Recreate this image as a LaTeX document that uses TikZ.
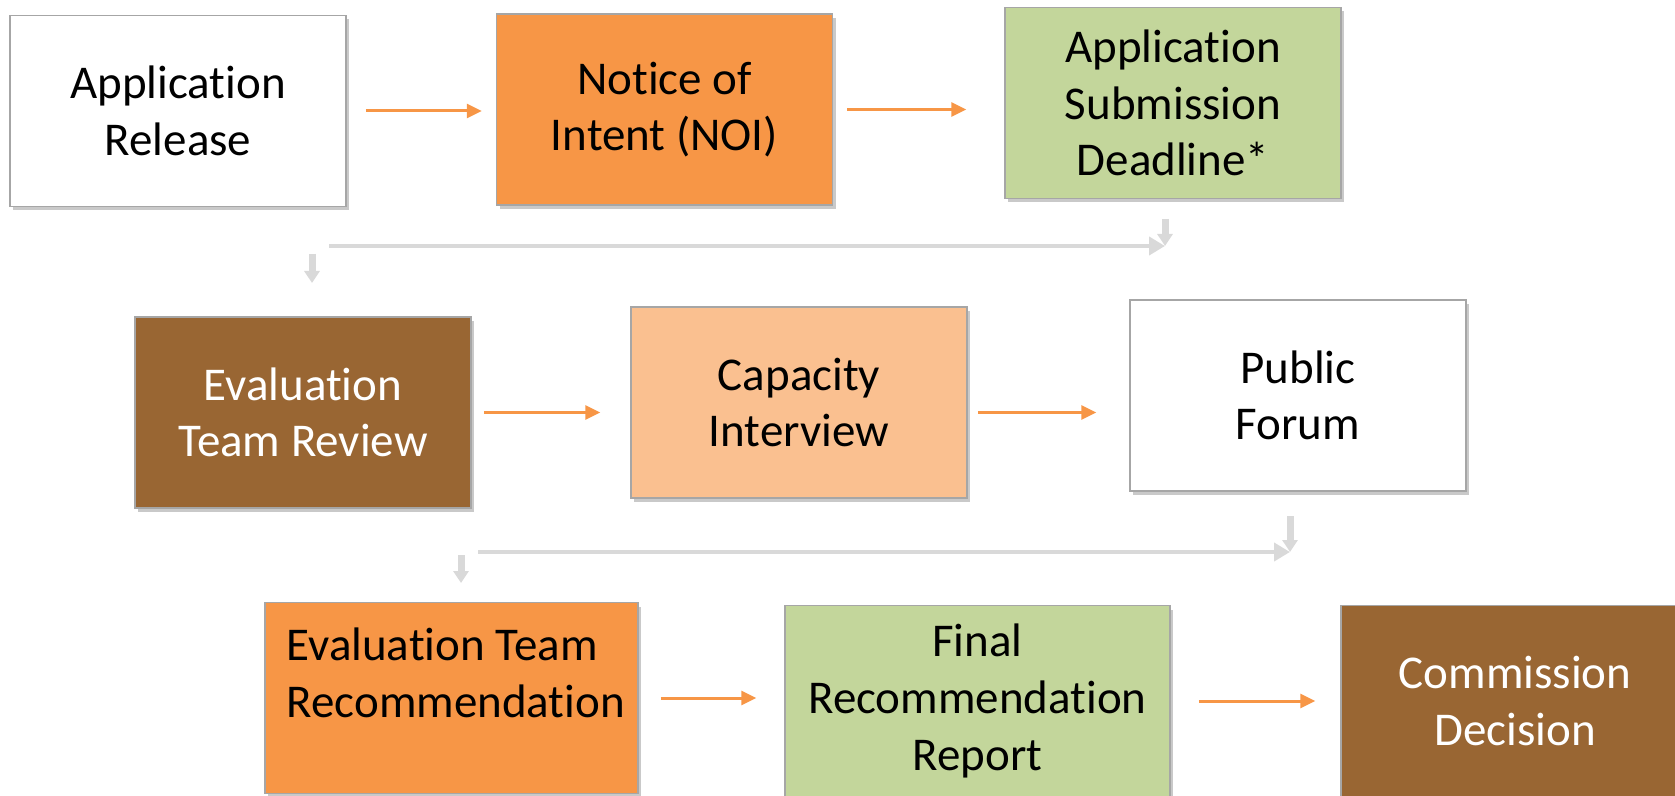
\documentclass[tikz,border=0pt]{standalone}
\usepackage{fontspec}
\setmainfont{Carlito}[Ligatures={NoCommon,NoContextual}]
\usetikzlibrary{arrows.meta,shadows}
\definecolor{boxorange}{HTML}{F79646}
\definecolor{boxpeach}{HTML}{FAC090}
\definecolor{boxgreen}{HTML}{C3D69B}
\definecolor{boxbrown}{HTML}{996633}
\definecolor{edgegray}{HTML}{A6A6A6}
\definecolor{linkgray}{HTML}{D9D9D9}
\tikzset{
  stagefont/.style={font=\fontsize{23.5}{28.3}\selectfont},
  stage/.style={stagefont, draw=edgegray, line width=0.75pt, minimum width=168pt, minimum height=95.5pt,
    inner sep=0pt, align=center, drop shadow={shadow xshift=1.5pt, shadow yshift=-2pt, opacity=0.3, fill=black!70}},
  flow/.style={draw=boxorange, line width=1.5pt, -{Triangle[length=7.5pt,width=7pt]}},
  link/.style={draw=linkgray, line width=2pt, -{Triangle[length=8pt,width=9pt]}},
  dropdown/.style={draw=linkgray, line width=3.5pt, -{Triangle[length=6pt,width=7.5pt]}},
}
\begin{document}
\begin{tikzpicture}[x=0.5pt, y=-0.5pt]
    \useasboundingbox (0,0) rectangle (1675,796);

    % first row
    \node[stage, fill=white] (release) at (178,111) {Application\\Release};
    \node[stage, fill=boxorange] (noi) at (664.5,109.5) {Notice of\\Intent (NOI)};
    \node[stage, fill=boxgreen] (deadline) at (1173,103) {Application\\Submission\\Deadline*};

    % second row
    \node[stage, fill=boxbrown, text=white] (review) at (303,412.5) {Evaluation\\Team Review};
    \node[stage, fill=boxpeach] (interview) at (799,402.5) {Capacity\\Interview};
    \node[stage, fill=white] (forum) at (1298,395.5) {Public\\Forum};

    % third row
    \node[stage, fill=boxorange, minimum width=186.5pt] (recommend) at (451.5,698) {};
    \node[stagefont, align=left, anchor=north west, inner sep=0pt] (recommendtext)
        at ([xshift=11pt, yshift=-13pt]recommend.north west) {Evaluation Team\\Recommendation};
    \node[stage, fill=boxgreen, minimum width=192.5pt] (report) at (977.5,701) {Final\\Recommendation\\Report};
    \node[stage, fill=boxbrown, text=white, minimum width=174pt] (decision) at (1515,701) {Commission\\Decision};

    \draw[flow, shorten <=9.5pt, shorten >=7pt] (release.east) -- (release.east -| noi.west);
    \draw[flow, shorten <=7pt, shorten >=19pt] (noi.east) -- (noi.east -| deadline.west);
    \draw[flow, shorten <=6pt, shorten >=15pt] (review.east) -- (review.east -| interview.west);
    \draw[flow, shorten <=5pt, shorten >=16.5pt] ([yshift=-5pt]interview.east) -- ([yshift=-5pt]interview.east -| forum.west);
    \draw[flow, shorten <=11pt, shorten >=14pt] (recommend.east) -- (recommend.east -| report.west);
    \draw[flow, shorten <=14pt, shorten >=12.5pt] (report.east) -- (report.east -| decision.west);

    % gray links between rows
    \coordinate (upA) at (1165,219);
    \coordinate (turnA) at (1165,246);
    \coordinate (startA) at (329,246);
    \coordinate (downA) at (312,254);
    \coordinate (endA) at (312,283);
    \draw[link] (startA) -- (startA -| turnA);
    \draw[dropdown] (upA) -- (turnA);
    \draw[dropdown] (downA) -- (endA);

    \coordinate (upB) at (1290,516);
    \coordinate (turnB) at (1290,552);
    \coordinate (startB) at (478,552);
    \coordinate (downB) at (461,555);
    \coordinate (endB) at (461,583);
    \draw[link] (startB) -- (startB -| turnB);
    \draw[dropdown] (upB) -- (turnB);
    \draw[dropdown] (downB) -- (endB);

\end{tikzpicture}
\end{document}
